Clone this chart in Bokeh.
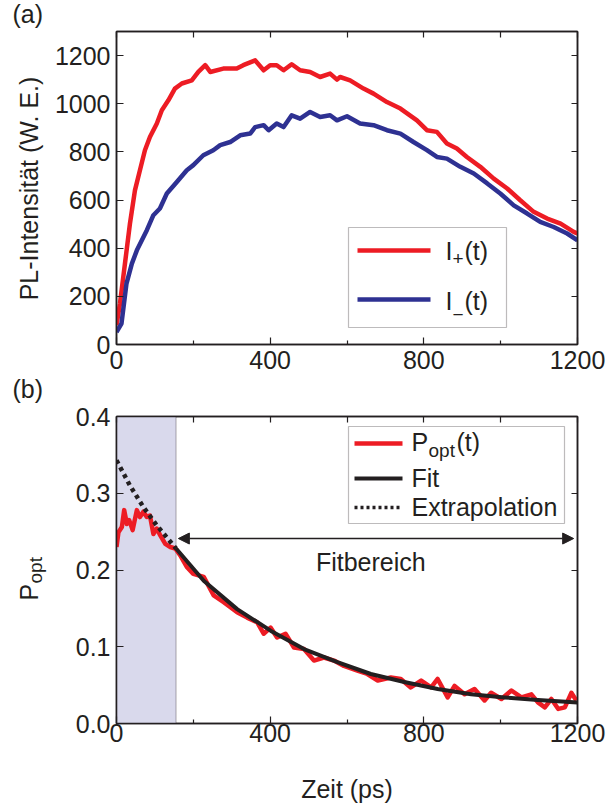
from math import pi
from bokeh.plotting import figure
from bokeh.layouts import column, row
from bokeh.models import (Range1d, FixedTicker, LinearAxis, Label, Arrow, NormalHead,
                          BoxAnnotation, CustomJSTickFormatter, NumeralTickFormatter)
from bokeh.core.properties import value
from bokeh.embed import file_html
from bokeh.resources import INLINE

FONT = "Liberation Sans"
INK = "#231f20"
RED = "#ed1c24"
BLUE = "#2e3192"
SHADE = "#d9d9ec"

# ---------------- data: panel (a) ----------------
t_plus = [0, 9, 22, 35, 48, 61, 74, 87, 105, 118, 135, 152, 170, 196, 213, 231, 244, 278,
          313, 330, 361, 383, 400, 417, 435, 456, 478, 504, 530, 556, 574, 582, 608, 643,
          669, 704, 739, 782, 808, 834, 860, 886, 912, 947, 982, 1017, 1051, 1086, 1121,
          1156, 1190, 1200]
I_plus = [80, 170, 336, 502, 640, 724, 807, 862, 918, 973, 1014, 1063, 1084, 1097, 1132,
          1160, 1132, 1146, 1146, 1160, 1180, 1139, 1160, 1160, 1139, 1164, 1139, 1132,
          1111, 1125, 1100, 1111, 1097, 1063, 1042, 1007, 980, 931, 890, 883, 835, 814,
          779, 738, 689, 648, 599, 551, 523, 502, 468, 461]

t_minus = [0, 13, 26, 40, 53, 66, 79, 96, 113, 131, 157, 183, 200, 226, 252, 270, 296, 322,
           348, 361, 383, 396, 417, 435, 456, 478, 504, 530, 556, 574, 600, 634, 669, 704,
           739, 773, 808, 834, 860, 895, 930, 965, 999, 1034, 1069, 1103, 1138, 1173, 1200]
I_minus = [52, 87, 253, 336, 391, 433, 475, 537, 565, 627, 675, 724, 745, 786, 807, 828, 841,
           869, 876, 903, 911, 890, 918, 903, 952, 938, 966, 945, 952, 931, 948, 918, 911,
           890, 876, 841, 807, 779, 772, 738, 710, 669, 627, 578, 544, 509, 488, 461, 433]

# ---------------- data: panel (b) ----------------
t_pol = [0, 5, 14, 20, 27, 33, 42, 53, 61, 70, 79, 87, 96, 105, 114, 127, 140, 153, 166, 183,
         200, 227, 253, 279, 314, 340, 366, 383, 401, 418, 440, 462, 488, 514, 540, 566, 592,
         627, 653, 680, 714, 740, 766, 793, 819, 836, 862, 880, 906, 932, 958, 975, 1002,
         1028, 1054, 1080, 1097, 1115, 1132, 1150, 1167, 1184, 1197]
P_pol = [0.230, 0.249, 0.256, 0.278, 0.260, 0.265, 0.252, 0.278, 0.269, 0.276, 0.269, 0.271,
         0.247, 0.254, 0.245, 0.234, 0.230, 0.228, 0.219, 0.204, 0.195, 0.191, 0.167, 0.158,
         0.145, 0.138, 0.132, 0.117, 0.125, 0.112, 0.117, 0.099, 0.097, 0.082, 0.086, 0.082,
         0.075, 0.069, 0.0645, 0.056, 0.060, 0.058, 0.047, 0.056, 0.047, 0.058, 0.034, 0.049,
         0.038, 0.045, 0.030, 0.040, 0.032, 0.043, 0.034, 0.038, 0.0275, 0.021, 0.032, 0.019,
         0.021, 0.040, 0.030]

t_fit = [155, 227, 314, 401, 488, 575, 662, 749, 836, 923, 1010, 1097, 1200]
P_fit = [0.228, 0.186, 0.149, 0.121, 0.097, 0.080, 0.0645, 0.054, 0.045, 0.038, 0.034,
         0.0305, 0.0275]

t_ext = [0, 35, 70, 105, 155]
P_ext = [0.343, 0.310, 0.282, 0.258, 0.228]

fit_start = 155
arrow_t = [161, 1190]
arrow_P = 0.241

x_major = [0, 400, 800, 1200]
x_minor = [200, 600, 1000]
x_all = [0, 200, 400, 600, 800, 1000, 1200]
y_ticks_a = [0, 200, 400, 600, 800, 1000, 1200]
y_ticks_b = [0.0, 0.1, 0.2, 0.3, 0.4]

BLANK = CustomJSTickFormatter(code="return ''")
SIDE_W = 50
PAGE_H = 803


def base_style(ax, size="25px"):
    ax.axis_line_color = INK
    ax.axis_line_width = 1.5
    ax.major_tick_line_color = INK
    ax.minor_tick_line_color = INK
    ax.major_tick_line_width = 1.2
    ax.minor_tick_line_width = 1.2
    ax.major_tick_in = 7
    ax.major_tick_out = 0
    ax.minor_tick_in = 4
    ax.minor_tick_out = 0
    ax.major_label_text_font = FONT
    ax.major_label_text_font_size = size
    ax.major_label_text_color = INK
    ax.axis_label_text_font = FONT
    ax.axis_label_text_font_size = size
    ax.axis_label_text_font_style = "normal"
    ax.axis_label_text_color = INK


def make_fig(frame_h, y_range, top, bottom):
    p = figure(frame_width=461, frame_height=frame_h, min_border_left=116 - SIDE_W,
               min_border_right=30, min_border_top=top, min_border_bottom=bottom,
               x_range=Range1d(0, 1200), y_range=y_range,
               output_backend="svg", toolbar_location=None)
    p.xgrid.visible = False
    p.ygrid.visible = False
    p.outline_line_color = INK
    p.outline_line_width = 1.5
    p.background_fill_color = "white"
    p.border_fill_color = "white"
    return p


def add_axes(p, yticks, x_standoff, xlabel=None, yfmt=None):
    xa = p.xaxis[0]
    ya = p.yaxis[0]
    base_style(xa)
    base_style(ya)
    xa.ticker = FixedTicker(ticks=x_major, minor_ticks=x_minor)
    xa.major_label_standoff = x_standoff
    ya.ticker = FixedTicker(ticks=yticks, minor_ticks=[])
    ya.major_label_standoff = 6
    if yfmt is not None:
        ya.formatter = yfmt
    if xlabel:
        xa.axis_label = xlabel
        xa.axis_label_standoff = 30
    top_ax = LinearAxis(ticker=FixedTicker(ticks=x_all, minor_ticks=[]), formatter=BLANK)
    right_ax = LinearAxis(ticker=FixedTicker(ticks=yticks, minor_ticks=[]), formatter=BLANK)
    for ax in (top_ax, right_ax):
        base_style(ax)
        ax.major_tick_in = 6
        ax.major_label_standoff = 0
    p.add_layout(top_ax, "above")
    p.add_layout(right_ax, "right")


def txt(p, x, y, s, size="25px", angle=0, align="left"):
    p.add_layout(Label(x=x, y=y, x_units="screen", y_units="screen", text=s,
                       text_font=FONT, text_font_size=size, text_color=INK,
                       text_align=align, text_baseline="alphabetic", angle=angle))


def gtxt(s, x, y, t, size="25px", angle=0, align="left"):
    s.text(x=[x], y=[y], text=[t], text_font=value(FONT), text_font_size=size,
           text_color=INK, text_align=align, text_baseline="alphabetic", angle=angle)


def seg(p, x0, x1, y, color, width, dash="solid"):
    p.add_layout(Arrow(start=None, end=None, x_start=x0, y_start=y, x_end=x1, y_end=y,
                       start_units="screen", end_units="screen", line_color=color,
                       line_width=width, line_dash=dash))


# ---------------- panel (a) ----------------
p1 = make_fig(313, Range1d(0, 1300), 31, 36)
add_axes(p1, y_ticks_a, 6)
p1.line(t_plus, I_plus, line_color=RED, line_width=4.5, line_join="round")
p1.line(t_minus, I_minus, line_color=BLUE, line_width=4.5, line_join="round")

p1.add_layout(BoxAnnotation(left=232, right=390, bottom=17, top=117,
                            left_units="screen", right_units="screen",
                            bottom_units="screen", top_units="screen",
                            fill_color="white", fill_alpha=1.0,
                            line_color=INK, line_width=1.2))
seg(p1, 241, 314, 94, RED, 4.5)
seg(p1, 241, 314, 45, BLUE, 4.5)
txt(p1, 329, 94, "I")
txt(p1, 336, 86, "+", "19px")
txt(p1, 348, 94, "(t)")
txt(p1, 329, 44, "I")
txt(p1, 336, 30, "\u2212", "19px")
txt(p1, 348, 44, "(t)")

# ---------------- panel (b) ----------------
p2 = make_fig(307, Range1d(0, 0.4), 36, 80)
add_axes(p2, y_ticks_b, 0, xlabel="Zeit (ps)", yfmt=NumeralTickFormatter(format="0.0"))

p2.add_layout(BoxAnnotation(left=0, right=fit_start, fill_color=SHADE, fill_alpha=1.0,
                            line_color=INK, line_width=1.2, level="underlay"))
p2.line(t_pol, P_pol, line_color=RED, line_width=4.5, line_join="round")
p2.line(t_fit, P_fit, line_color=INK, line_width=4, line_join="round")
p2.line(t_ext, P_ext, line_color=INK, line_width=4.5, line_dash="4 4")

p2.add_layout(Arrow(start=NormalHead(size=11, fill_color=INK, line_color=INK, line_width=1),
                    end=NormalHead(size=11, fill_color=INK, line_color=INK, line_width=1),
                    x_start=arrow_t[0], y_start=arrow_P, x_end=arrow_t[1], y_end=arrow_P,
                    line_color=INK, line_width=1.5))
p2.add_layout(Label(x=662, y=0.197, y_offset=10, text="Fitbereich", text_font=FONT,
                    text_font_size="25px", text_color=INK, text_align="center",
                    text_baseline="alphabetic"))

p2.add_layout(BoxAnnotation(left=232, right=448, bottom=200, top=297,
                            left_units="screen", right_units="screen",
                            bottom_units="screen", top_units="screen",
                            fill_color="white", fill_alpha=1.0,
                            line_color=INK, line_width=1.2))
seg(p2, 238, 286, 280, RED, 4.5)
seg(p2, 238, 286, 245, INK, 4)
seg(p2, 238, 286, 216, INK, 3.5, "3 3")
txt(p2, 295, 282, "P")
txt(p2, 312, 273, "opt", "19px")
txt(p2, 340, 282, "(t)")
txt(p2, 295, 246, "Fit")
txt(p2, 295, 217, "Extrapolation")

# ---------------- left strip with panel letters and y-axis titles ----------------
side = figure(frame_width=SIDE_W, frame_height=PAGE_H, min_border=0,
              x_range=Range1d(0, SIDE_W), y_range=Range1d(PAGE_H, 0),
              x_axis_type=None, y_axis_type=None,
              output_backend="svg", toolbar_location=None)
side.outline_line_color = None
side.background_fill_color = "white"
side.border_fill_color = "white"
gtxt(side, 12, 13, "(a)", "25px")
gtxt(side, 28, 188, "PL-Intensität (W. E.)", angle=pi / 2, align="center")
gtxt(side, 12, 388, "(b)", "25px")
gtxt(side, 28, 600, "P", angle=pi / 2)
gtxt(side, 35, 583, "opt", "19px", angle=pi / 2)

layout = row(side, column(p1, p2, spacing=0), spacing=0)
open("out.html", "w").write(file_html(layout, INLINE))
